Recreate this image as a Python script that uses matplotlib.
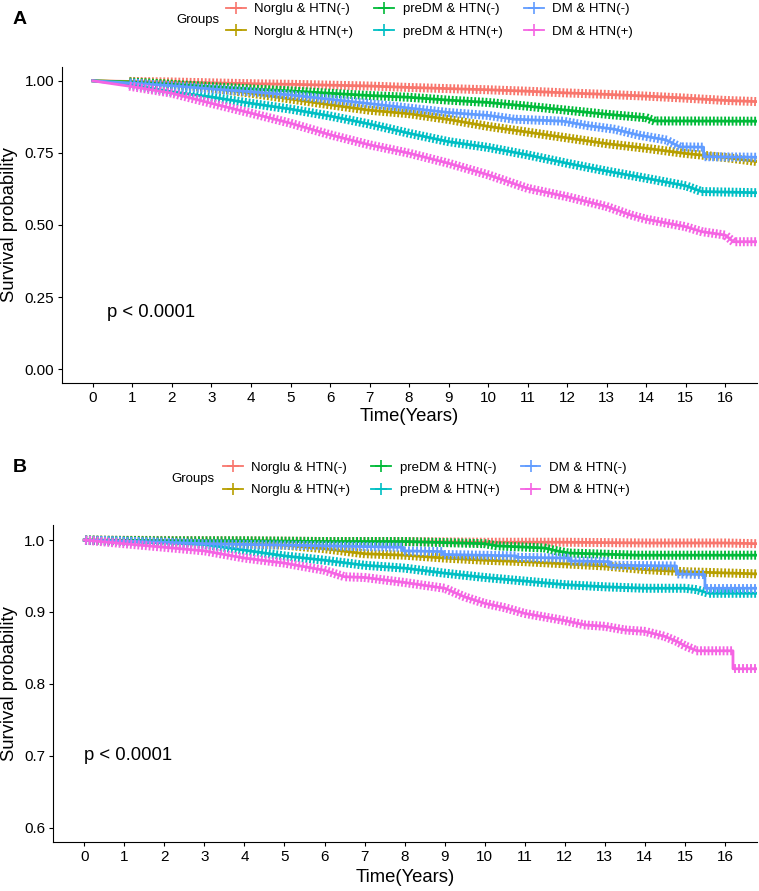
import numpy as np
import matplotlib
matplotlib.use("Agg")
import matplotlib.pyplot as plt
import matplotlib.patheffects as pe
from matplotlib.lines import Line2D

plt.rcParams["font.family"] = ["Liberation Sans", "DejaVu Sans"]

GROUPS = ["Norglu & HTN(-)", "Norglu & HTN(+)", "preDM & HTN(-)",
          "preDM & HTN(+)", "DM & HTN(-)", "DM & HTN(+)"]
COLORS = ["#F8766D", "#B79F00", "#00BA38", "#00BFC4", "#619CFF", "#F564E3"]
X_TICKS = list(range(0, 17))

# ─── PANEL A ──────────────────────────────────────────────────────────────────
A_T_NORGLU_NEG = [0, 0.9, 2, 3, 4, 5, 6, 7, 8, 9, 10, 11, 12, 13, 14, 15, 16, 16.8]
A_S_NORGLU_NEG = [1.0, 0.998, 0.996, 0.993, 0.990, 0.988, 0.985, 0.982, 0.977,
                  0.973, 0.969, 0.964, 0.958, 0.953, 0.947, 0.940, 0.932, 0.928]
A_T_NORGLU_POS = [0, 0.9, 2, 3, 4, 5, 6, 7, 8, 9, 10, 11, 12, 13, 14, 15, 16, 16.8]
A_S_NORGLU_POS = [1.0, 0.997, 0.988, 0.975, 0.957, 0.937, 0.917, 0.898, 0.886,
                  0.866, 0.842, 0.822, 0.802, 0.782, 0.766, 0.748, 0.734, 0.720]
A_T_PREDM_NEG = [0, 0.9, 2, 3, 4, 5, 6, 7, 8, 9, 10, 11, 12, 13, 14, 14.2, 16.8]
A_S_PREDM_NEG = [1.0, 0.996, 0.988, 0.980, 0.972, 0.965, 0.957, 0.949, 0.943,
                 0.933, 0.925, 0.912, 0.898, 0.884, 0.872, 0.861, 0.860]
A_T_PREDM_POS = [0, 0.9, 2, 3, 4, 5, 6, 7, 8, 9, 10, 11, 12, 13, 14, 15, 15.4, 16.8]
A_S_PREDM_POS = [1.0, 0.988, 0.962, 0.944, 0.922, 0.902, 0.878, 0.850, 0.818,
                 0.789, 0.769, 0.743, 0.714, 0.687, 0.662, 0.636, 0.616, 0.612]
A_T_DM_NEG = [0, 0.9, 2, 3, 4, 5, 6, 7, 9, 10, 10.65, 11.9, 12.5, 13.2, 13.8,
              14.5, 14.85, 15.45, 15.45, 16.8]
A_S_DM_NEG = [1.0, 0.993, 0.983, 0.972, 0.962, 0.951, 0.936, 0.921, 0.890, 0.880,
              0.867, 0.860, 0.845, 0.832, 0.812, 0.795, 0.771, 0.770, 0.737, 0.735]
A_T_DM_POS = [0, 0.9, 2, 3, 4, 5, 6, 7, 8, 9, 10, 11, 12, 13, 13.6, 14, 15, 15.4,
              16, 16.2, 16.8]
A_S_DM_POS = [1.0, 0.982, 0.957, 0.922, 0.888, 0.853, 0.813, 0.778, 0.749, 0.714,
              0.674, 0.627, 0.598, 0.564, 0.535, 0.520, 0.494, 0.477, 0.465, 0.442,
              0.442]

# ─── PANEL B ──────────────────────────────────────────────────────────────────
B_T_NORGLU_NEG = [0, 2, 4, 6, 8, 10, 12, 14, 16, 16.8]
B_S_NORGLU_NEG = [1.0, 0.9995, 0.999, 0.998, 0.998, 0.997, 0.997, 0.996, 0.996, 0.995]
B_T_NORGLU_POS = [0, 1, 3, 5, 6, 7, 8, 9, 10, 11, 12, 13, 14, 15, 16.8]
B_S_NORGLU_POS = [1.0, 0.999, 0.996, 0.993, 0.988, 0.981, 0.979, 0.975, 0.972,
                  0.970, 0.967, 0.964, 0.959, 0.956, 0.953]
B_T_PREDM_NEG = [0, 2, 4, 6, 8, 10, 10.3, 11.5, 11.8, 12.1, 13.8, 16.8]
B_S_PREDM_NEG = [1.0, 0.999, 0.999, 0.998, 0.998, 0.995, 0.992, 0.989, 0.985,
                 0.982, 0.979, 0.979]
B_T_PREDM_POS = [0, 1, 2, 3, 4, 5, 6, 7, 8, 9, 10, 11, 12, 13, 14, 15, 15.3, 15.6, 16.8]
B_S_PREDM_POS = [1.0, 0.998, 0.996, 0.994, 0.986, 0.978, 0.972, 0.965, 0.961,
                 0.954, 0.948, 0.943, 0.938, 0.935, 0.933, 0.933, 0.931, 0.926, 0.926]
B_T_DM_NEG = [0, 2, 3, 5, 7.96, 7.96, 8.96, 8.96, 10.79, 10.79, 12.12, 12.12,
              13.12, 13.12, 14.79, 14.79, 15.5, 15.5, 16.8]
B_S_DM_NEG = [1.0, 0.997, 0.995, 0.993, 0.990, 0.985, 0.984, 0.980, 0.978, 0.976,
              0.975, 0.971, 0.970, 0.965, 0.964, 0.953, 0.952, 0.933, 0.933]
B_T_DM_POS = [0, 1, 2, 3, 4, 5, 6, 6.5, 7, 8, 9, 9.5, 10, 10.5, 11, 11.5, 12, 12.5,
              13, 13.5, 14, 14.5, 14.8, 15, 15.3, 16.2, 16.2, 16.8]
B_S_DM_POS = [1.0, 0.995, 0.990, 0.985, 0.975, 0.968, 0.958, 0.949, 0.948, 0.941,
              0.933, 0.921, 0.912, 0.906, 0.898, 0.893, 0.888, 0.882, 0.880, 0.875,
              0.873, 0.866, 0.859, 0.853, 0.846, 0.846, 0.821, 0.821]

PANEL_A = [(A_T_NORGLU_NEG, A_S_NORGLU_NEG), (A_T_NORGLU_POS, A_S_NORGLU_POS),
           (A_T_PREDM_NEG, A_S_PREDM_NEG), (A_T_PREDM_POS, A_S_PREDM_POS),
           (A_T_DM_NEG, A_S_DM_NEG), (A_T_DM_POS, A_S_DM_POS)]
PANEL_B = [(B_T_NORGLU_NEG, B_S_NORGLU_NEG), (B_T_NORGLU_POS, B_S_NORGLU_POS),
           (B_T_PREDM_NEG, B_S_PREDM_NEG), (B_T_PREDM_POS, B_S_PREDM_POS),
           (B_T_DM_NEG, B_S_DM_NEG), (B_T_DM_POS, B_S_DM_POS)]

W, H = 759, 891


def draw_curve(ax, t, s, color, censor_from):
    t = np.asarray(t, float)
    s = np.asarray(s, float)
    ax.plot(t, s, color=color, lw=2.0, zorder=3)
    # dense censor "+" marks along the curve, not on the vertical drops
    keep = t >= censor_from
    tc, sc = t[keep], s[keep]
    drops = np.where(np.diff(tc) == 0)[0] + 1
    ticks = [pe.TickedStroke(spacing=2.7, angle=a, length=0.95, linewidth=1.35)
             for a in (90, -90)]
    for seg_t, seg_s in zip(np.split(tc, drops), np.split(sc, drops)):
        if len(seg_t) < 2:
            continue
        ax.plot(seg_t, seg_s, color=color, lw=1.35, path_effects=ticks, zorder=3)


def style_axes(ax):
    ax.spines[["top", "right"]].set_visible(False)
    ax.spines[["left", "bottom"]].set_linewidth(0.8)
    ax.tick_params(direction="out", length=3, width=0.8, labelsize=11,
                   colors="black", pad=2.5)
    ax.set_xticks(X_TICKS)
    ax.set_xlim(-0.78, 16.8)
    ax.set_xlabel("Time(Years)", fontsize=13.3)
    ax.set_ylabel("Survival probability", fontsize=13.3)
    ax.xaxis.label.set_verticalalignment("center")
    ax.yaxis.label.set_verticalalignment("center")


def add_legend(fig, y_center, x_key, x_title):
    handles = [Line2D([], [], color=c, lw=1.3, marker="+", markersize=9,
                      markeredgewidth=1.2) for c in COLORS]
    fig.legend(handles, GROUPS, loc="center left", ncol=3, frameon=False,
               bbox_to_anchor=(x_key / W, 1 - y_center / H), fontsize=9.5,
               handlelength=1.5, handletextpad=0.65, columnspacing=1.6,
               labelspacing=0.78, borderpad=0, borderaxespad=0)
    fig.text(x_title / W, 1 - y_center / H, "Groups", fontsize=9.5,
             ha="left", va="center")


fig = plt.figure(figsize=(W / 100, H / 100), dpi=100)

# ─── PANEL A ──────────────────────────────────────────────────────────────────
axA = fig.add_axes([62 / W, 1 - 383 / H, 695 / W, 316 / H])
for (t, s), c in zip(PANEL_A, COLORS):
    draw_curve(axA, t, s, c, censor_from=0.9)
style_axes(axA)
axA.set_ylim(-0.048, 1.048)
axA.set_yticks([0, 0.25, 0.5, 0.75, 1.0])
axA.set_yticklabels([f"{v:.2f}" for v in [0, 0.25, 0.5, 0.75, 1.0]])
axA.yaxis.set_label_coords((10 - 62) / 695, 0.5)
axA.xaxis.set_label_coords(0.5, (383 - 417) / 316)
axA.text(0.35, 0.195, "p < 0.0001", fontsize=13.3, ha="left", va="center")
add_legend(fig, 20.5, 226, 176)
fig.text(13 / W, 1 - 19 / H, "A", fontsize=14, fontweight="bold", ha="left", va="center")

# ─── PANEL B ──────────────────────────────────────────────────────────────────
axB = fig.add_axes([53 / W, 1 - 842 / H, 704 / W, 317 / H])
for (t, s), c in zip(PANEL_B, COLORS):
    draw_curve(axB, t, s, c, censor_from=0.0)
style_axes(axB)
axB.set_ylim(0.58, 1.021)
axB.set_yticks([0.6, 0.7, 0.8, 0.9, 1.0])
axB.set_yticklabels([f"{v:.1f}" for v in [0.6, 0.7, 0.8, 0.9, 1.0]])
axB.yaxis.set_label_coords((10 - 53) / 704, 0.5)
axB.xaxis.set_label_coords(0.5, (842 - 877) / 317)
axB.text(0.0, 0.70, "p < 0.0001", fontsize=13.3, ha="left", va="center")
add_legend(fig, 479, 223, 171)
fig.text(13 / W, 1 - 467.5 / H, "B", fontsize=14, fontweight="bold", ha="left", va="center")

fig.savefig("out.png", dpi=100)
